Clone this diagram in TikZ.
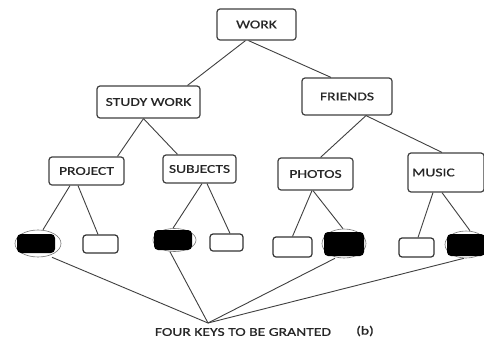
\documentclass[tikz,border=0pt]{standalone}
\usepackage{fontspec}
\newfontfamily\labfont[FakeStretch=1.3,FakeBold=0.6]{Carlito}
\usetikzlibrary{shapes.geometric}
\tikzset{
  box/.style={draw=black!75, line width=1.2pt, rounded corners=3pt, fill=white,
    font=\labfont\fontsize{12}{14}\selectfont, text=black!85, inner sep=0pt},
  wleaf/.style={draw=black!80, line width=1.2pt, rounded corners=3pt, inner sep=0pt, fill=white},
  ring/.style={ellipse, draw=black!55, line width=0.6pt, inner sep=0pt},
  bfill/.style={fill=black, rounded corners=4pt, inner sep=0pt},
  edge/.style={draw=black!75, line width=0.9pt},
  captext/.style={font=\labfont\fontsize{12}{14}\selectfont, text=black!85, inner sep=0pt}
}
\begin{document}
\begin{tikzpicture}[x=1pt,y=-1pt]
\useasboundingbox[fill=white] (0,0) rectangle (484,343);
% inner boxes
\node[box, minimum width=79pt, minimum height=31pt] (work) at (256.5,24.5) {WORK};
\node[box, minimum width=103pt, minimum height=32pt] (study) at (148.5,102) {STUDY WORK};
\node[box, minimum width=90pt, minimum height=37pt] (friends) at (347,96.5) {FRIENDS};
\node[box, minimum width=75pt, minimum height=28pt] (project) at (86.5,171) {PROJECT};
\node[box, minimum width=73pt, minimum height=28pt] (subjects) at (199.5,169) {SUBJECTS};
\node[box, minimum width=75pt, minimum height=32pt] (photos) at (315.5,174) {PHOTOS};
\node[box, text width=68pt, inner xsep=4pt, align=left, minimum height=39pt] (music) at (446,172.5) {MUSIC};
% leaves
\node[ring, minimum width=46pt, minimum height=27pt] (k1) at (38,243.5) {};
\node[bfill, minimum width=38pt, minimum height=19pt] (k1f) at (36,243.5) {};
\node[wleaf, minimum width=35pt, minimum height=18pt] (w1) at (100.5,244) {};
\node[ring, minimum width=43pt, minimum height=23pt] (k2) at (174.5,240) {};
\node[bfill, minimum width=38pt, minimum height=20pt] (k2f) at (173,240) {};
\node[wleaf, minimum width=33pt, minimum height=17pt] (w2) at (226.5,242.5) {};
\node[wleaf, minimum width=39pt, minimum height=20pt] (w3) at (292.5,247) {};
\node[ring, minimum width=44pt, minimum height=29pt] (k3) at (344,243.5) {};
\node[bfill, minimum width=40pt, minimum height=24pt] (k3f) at (344,244) {};
\node[wleaf, minimum width=35pt, minimum height=19pt] (w4) at (416.5,247.5) {};
\node[ring, minimum width=42pt, minimum height=27pt] (k4) at (466,244.5) {};
\node[bfill, minimum width=38pt, minimum height=22pt] (k4f) at (466,245) {};
% caption
\coordinate (apex) at (208,323);
\node[captext] (caption) at (243,332) {FOUR KEYS TO BE GRANTED};
\node[captext] (b) at (365,331) {(b)};
% edges
\draw[edge] ([xshift=-11pt]work.south) -- ([xshift=39pt]study.north);
\draw[edge] ([xshift=-8pt]work.south) -- ([xshift=-16pt]friends.north);
\draw[edge] ([xshift=-5pt]study.south) -- ([xshift=31pt]project.north);
\draw[edge] ([xshift=-5pt]study.south) -- ([xshift=-22pt]subjects.north);
\draw[edge] ([xshift=19pt]friends.south) -- ([xshift=5pt]photos.north);
\draw[edge] ([xshift=19pt]friends.south) -- ([xshift=-4pt]music.north);
\draw[edge] ([xshift=-16.5pt]project.south) -- ([xshift=5pt]k1.north);
\draw[edge] ([xshift=-8.5pt]project.south) -- ([xshift=-2.5pt]w1.north);
\draw[edge] ([xshift=2.5pt]subjects.south) -- ([xshift=-1.5pt]k2.north);
\draw[edge] ([xshift=7.5pt]subjects.south) -- ([xshift=3.5pt]w2.north);
\draw[edge] ([xshift=-3.5pt]photos.south) -- ([xshift=0pt]w3.north);
\draw[edge] ([xshift=-2.5pt]photos.south) -- ([xshift=-1pt]k3.north);
\draw[edge] ([xshift=-13pt]music.south) -- ([xshift=1.5pt]w4.north);
\draw[edge] ([xshift=-4pt]music.south) -- ([xshift=4pt]k4.north);
\draw[edge] ([xshift=14pt]k1.south) -- (apex);
\draw[edge] ([xshift=-4.5pt]k2.south) -- (apex);
\draw[edge] ([xshift=-9pt]k3.south) -- (apex);
\draw[edge] ([xshift=-2pt]k4.south) -- (apex);
\end{tikzpicture}
\end{document}
